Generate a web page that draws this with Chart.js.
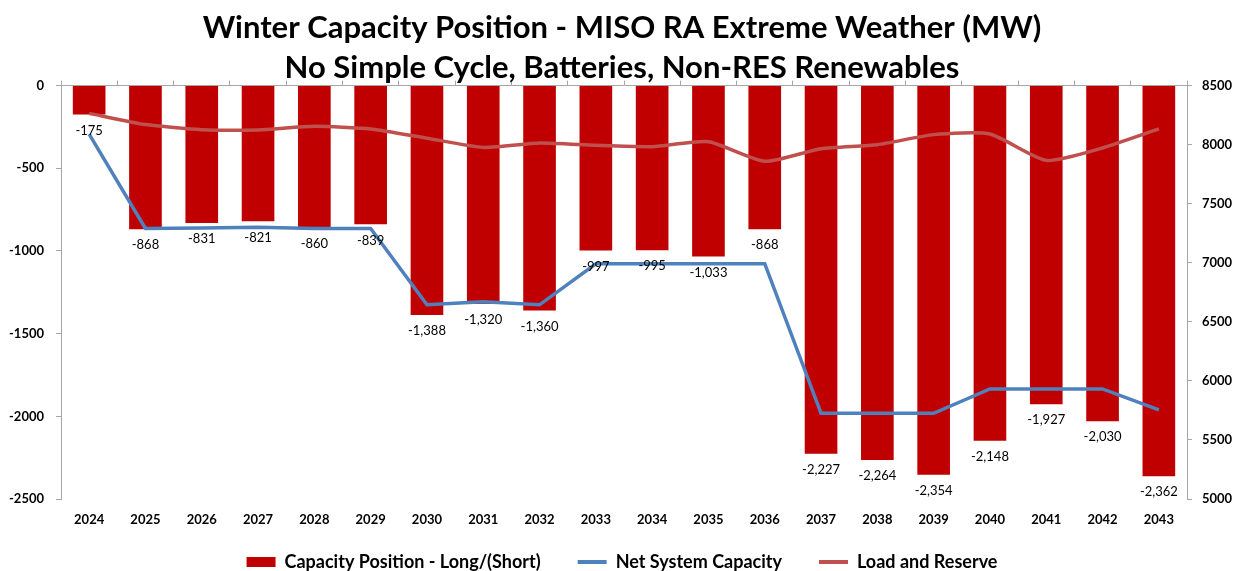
<!DOCTYPE html>
<html lang="en">
<head>
    <meta charset="UTF-8">
    <title>Winter Capacity Position - MISO RA Extreme Weather</title>
    <script src="https://cdn.jsdelivr.net/npm/chart.js"></script>
    <style>
        body { margin: 0; background: #fff; }
        #wrap { width: 1244px; height: 571px; position: relative; }
    </style>
</head>
<body>
    <div id="wrap"><canvas id="capChart"></canvas></div>

    <script>
        // chart data
        const years = ['2024', '2025', '2026', '2027', '2028', '2029', '2030', '2031', '2032', '2033',
                       '2034', '2035', '2036', '2037', '2038', '2039', '2040', '2041', '2042', '2043'];
        const capacityPosition = [-175, -868, -831, -821, -860, -839, -1388, -1320, -1360, -997,
                                  -995, -1033, -868, -2227, -2264, -2354, -2148, -1927, -2030, -2362];
        const netSystemCapacity = [8090, 7290, 7295, 7300, 7290, 7290, 6644, 6670, 6644, 6992,
                                   6992, 6992, 6992, 5726, 5726, 5726, 5932, 5932, 5932, 5754];
        const loadAndReserve = [8265, 8170, 8127, 8125, 8155, 8133, 8055, 7977, 8014, 7994,
                                7983, 8025, 7859, 7966, 8000, 8085, 8090, 7867, 7972, 8133];
        const leftTicks = [0, -500, -1000, -1500, -2000, -2500];
        const rightTicks = [8500, 8000, 7500, 7000, 6500, 6000, 5500, 5000];

        const axisGray = '#a6a6a6';
        const fontFam = 'Lato, "Open Sans", sans-serif';
        const tickFont = { family: fontFam, size: 13, weight: 'bold' };

        // value labels under every bar
        const barLabels = {
            id: 'barLabels',
            afterDatasetsDraw(chart) {
                const meta = chart.getDatasetMeta(0);
                const ctx = chart.ctx;
                ctx.save();
                ctx.font = '13px ' + fontFam;
                ctx.fillStyle = '#000';
                ctx.textAlign = 'center';
                ctx.textBaseline = 'middle';
                meta.data.forEach((bar, i) => {
                    ctx.fillText(capacityPosition[i].toLocaleString('en-US'), bar.x, bar.y + 16);
                });
                ctx.restore();
            }
        };

        const ctx = document.getElementById('capChart').getContext('2d');
        new Chart(ctx, {
            type: 'bar',
            data: {
                labels: years,
                datasets: [
                    {
                        type: 'bar',
                        label: 'Capacity Position - Long/(Short)',
                        data: capacityPosition,
                        backgroundColor: '#c00000',
                        borderWidth: 0,
                        barPercentage: 0.58,
                        categoryPercentage: 1,
                        yAxisID: 'y',
                        order: 3
                    },
                    {
                        type: 'line',
                        label: 'Net System Capacity',
                        data: netSystemCapacity,
                        borderColor: '#4f81bd',
                        backgroundColor: '#4f81bd',
                        borderWidth: 3.5,
                        pointRadius: 0,
                        tension: 0,
                        yAxisID: 'y1',
                        order: 1
                    },
                    {
                        type: 'line',
                        label: 'Load and Reserve',
                        data: loadAndReserve,
                        borderColor: '#c0504d',
                        backgroundColor: '#c0504d',
                        borderWidth: 3.5,
                        pointRadius: 0,
                        tension: 0.2,
                        yAxisID: 'y1',
                        order: 2
                    }
                ]
            },
            options: {
                responsive: true,
                maintainAspectRatio: false,
                animation: false,
                layout: { padding: { top: 0, left: 0, right: 0, bottom: -10 } },
                scales: {
                    x: {
                        position: 'bottom',
                        grid: { display: false },
                        border: { display: false },
                        ticks: { color: '#000', font: tickFont, padding: 5 },
                        afterFit: axis => { axis.height = 53; }
                    },
                    x2: {
                        type: 'category',
                        labels: years,
                        position: 'top',
                        offset: true,
                        grid: { offset: true, drawOnChartArea: false, drawTicks: true, tickLength: 5, color: axisGray },
                        border: { color: axisGray },
                        ticks: { display: false },
                        afterFit: axis => { axis.height = 5; }
                    },
                    y: {
                        position: 'left',
                        min: -2500,
                        max: 0,
                        afterBuildTicks: axis => { axis.ticks = leftTicks.map(v => ({ value: v })); },
                        grid: { drawOnChartArea: false, tickLength: 5, color: axisGray },
                        border: { color: axisGray },
                        ticks: { color: '#000', font: tickFont, padding: 12, callback: v => String(v) },
                        afterFit: axis => { axis.width = 61; }
                    },
                    y1: {
                        position: 'right',
                        min: 5000,
                        max: 8500,
                        afterBuildTicks: axis => { axis.ticks = rightTicks.map(v => ({ value: v })); },
                        grid: { drawOnChartArea: false, tickLength: 5, color: axisGray },
                        border: { color: axisGray },
                        ticks: { color: '#000', font: tickFont, padding: 10, callback: v => String(v) },
                        afterFit: axis => { axis.width = 57; }
                    }
                },
                plugins: {
                    title: {
                        display: true,
                        text: ['Winter Capacity Position - MISO RA Extreme Weather (MW)',
                               'No Simple Cycle, Batteries, Non-RES Renewables'],
                        color: '#000',
                        font: { family: fontFam, size: 31, weight: 'bold', lineHeight: 1.3 },
                        padding: { top: 8, bottom: -8 }
                    },
                    legend: {
                        position: 'bottom',
                        labels: {
                            color: '#000',
                            font: { family: fontFam, size: 18, weight: 'bold' },
                            usePointStyle: true,
                            pointStyleWidth: 29,
                            boxHeight: 10,
                            padding: 1,
                            sort: (a, b) => a.datasetIndex - b.datasetIndex,
                            generateLabels: chart => {
                                const items = Chart.defaults.plugins.legend.labels.generateLabels(chart);
                                items.forEach(it => {
                                    const ds = chart.data.datasets[it.datasetIndex];
                                    it.pointStyle = ds.type === 'bar' ? 'rect' : 'line';
                                    it.lineWidth = ds.type === 'bar' ? 0 : 4;
                                    if (it.datasetIndex < 2) it.text = ds.label + '\u2003\u2003\u2002';
                                });
                                return items;
                            }
                        }
                    },
                    tooltip: { enabled: false }
                }
            },
            plugins: [barLabels]
        });
    </script>
</body>
</html>
